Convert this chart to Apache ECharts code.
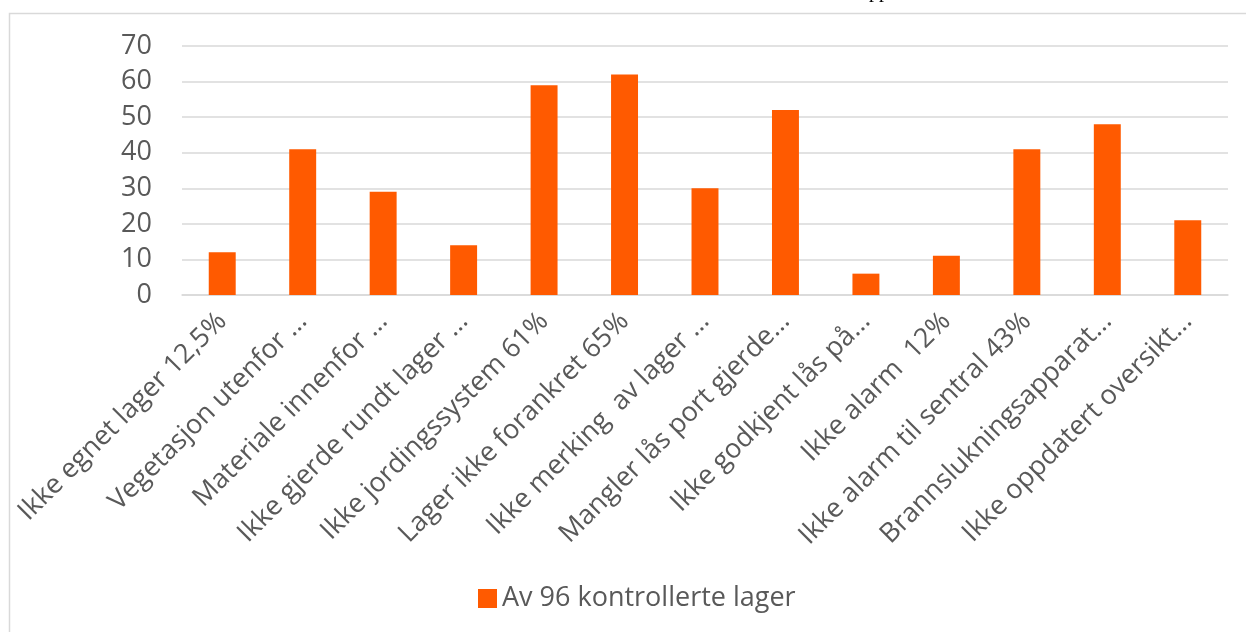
<!DOCTYPE html>
<html>
<head>
<meta charset="utf-8">
<script src="https://cdn.jsdelivr.net/npm/echarts@6/dist/echarts.min.js"></script>
<style>
  html, body { margin: 0; padding: 0; background: #fff; }
  #chart { width: 1246px; height: 632px; }
</style>
</head>
<body>
<div id="chart"></div>
<script>
  // kategorier (avkortet slik som i Excel-figuren)
  var categories = [
    'Ikke egnet lager 12,5%',
    'Vegetasjon utenfor …',
    'Materiale innenfor …',
    'Ikke gjerde rundt lager …',
    'Ikke jordingssystem 61%',
    'Lager ikke forankret 65%',
    'Ikke merking  av lager …',
    'Mangler lås port gjerde…',
    'Ikke godkjent lås på…',
    'Ikke alarm  12%',
    'Ikke alarm til sentral 43%',
    'Brannslukningsapparat…',
    'Ikke oppdatert oversikt…'
  ];
  var seriesName = 'Av 96 kontrollerte lager';
  var values = [12, 41, 29, 14, 59, 62, 30, 52, 6, 11, 41, 48, 21];
  var yTicks = [0, 10, 20, 30, 40, 50, 60, 70];

  var font = '"Open Sans", sans-serif';
  var textColor = '#595959';
  var lineColor = '#d9d9d9';

  var chart = echarts.init(document.getElementById('chart'));
  var option = {
    animation: false,
    backgroundColor: '#fff',
    textStyle: { fontFamily: font },
    graphic: [
      {
        // ramme rundt diagrammet
        type: 'rect',
        shape: { x: 9.5, y: 13.5, width: 1260, height: 640 },
        style: { fill: null, stroke: lineColor, lineWidth: 1.5 },
        silent: true
      },
      {
        // rest av tittel over figuren (avkuttet)
        type: 'text',
        x: 869, y: 2,
        style: {
          text: 'pp',
          font: '20px "Liberation Serif", serif',
          fill: '#000',
          verticalAlign: 'bottom'
        },
        silent: true
      }
    ],
    grid: {
      left: 182,
      right: 18,
      top: 46,
      bottom: 337
    },
    legend: {
      data: [seriesName],
      left: 473,
      top: 580,
      itemWidth: 19,
      itemHeight: 19,
      itemGap: 8,
      icon: 'rect',
      textStyle: { fontSize: 27, color: textColor, fontFamily: font }
    },
    xAxis: {
      type: 'category',
      data: categories,
      axisLine: { lineStyle: { color: lineColor, width: 1.5 } },
      axisTick: { show: false },
      axisLabel: {
        interval: 0,
        rotate: 45,
        margin: 22,
        fontSize: 27,
        color: textColor,
        fontFamily: font
      }
    },
    yAxis: {
      type: 'value',
      min: yTicks[0],
      max: yTicks[yTicks.length - 1],
      interval: 10,
      axisLine: { show: false },
      axisTick: { show: false },
      splitLine: { lineStyle: { color: lineColor, width: 1.5 } },
      axisLabel: {
        margin: 30,
        fontSize: 27,
        color: textColor,
        fontFamily: font
      }
    },
    series: [{
      name: seriesName,
      type: 'bar',
      data: values,
      barWidth: '33.5%',
      itemStyle: { color: '#ff5a00' }
    }]
  };
  chart.setOption(option);
</script>
</body>
</html>
